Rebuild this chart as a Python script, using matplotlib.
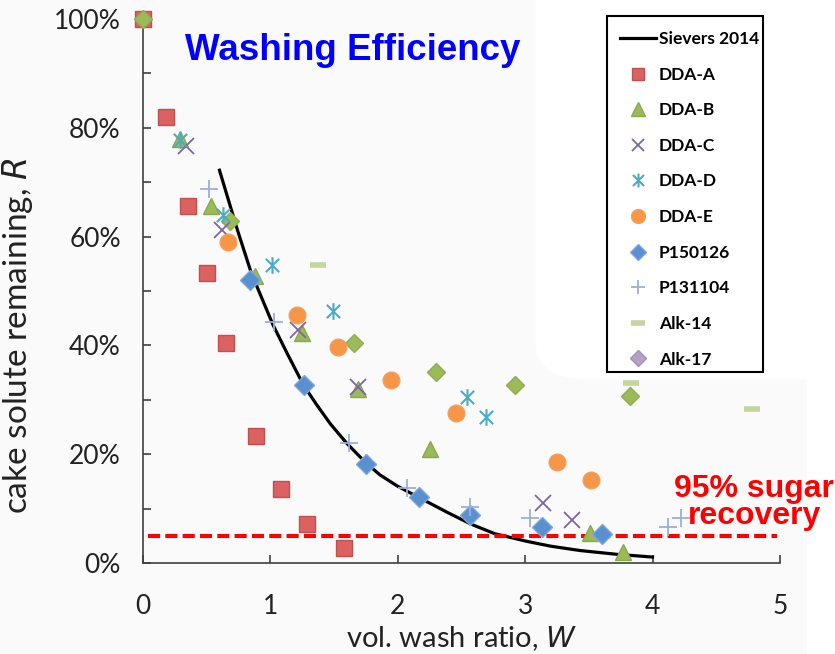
import matplotlib
matplotlib.use("Agg")
import matplotlib.pyplot as plt
from matplotlib.path import Path
from matplotlib.lines import Line2D
from matplotlib.patches import FancyBboxPatch, Rectangle

# values (W, R in %)
sievers_w = [0.60, 0.74, 0.85, 1.02, 1.13, 1.26, 1.36, 1.47, 1.60, 1.75, 1.86, 2.00, 2.17, 2.39,
             2.57, 2.76, 3.01, 3.20, 3.43, 3.72, 4.00]
sievers_r = [72.2, 61.3, 53.3, 43.8, 38.6, 32.7, 29.2, 25.6, 22.0, 18.4, 16.2, 14.1, 12.0, 9.3,
             7.2, 5.4, 4.0, 3.1, 2.3, 1.6, 1.1]

dda_a_w = [0.0, 0.18, 0.35, 0.50, 0.65, 0.89, 1.08, 1.29, 1.58]
dda_a_r = [100, 82.0, 65.6, 53.3, 40.4, 23.3, 13.6, 7.2, 2.8]

dda_b_w = [0.29, 0.53, 0.88, 1.25, 1.69, 2.25, 3.51, 3.77]
dda_b_r = [78.0, 65.6, 52.8, 42.3, 32.0, 21.0, 5.5, 2.0]

dda_c_w = [0.34, 0.62, 1.22, 1.69, 3.14, 3.37]
dda_c_r = [76.7, 61.2, 42.8, 32.3, 11.0, 7.9]

dda_d_w = [0.29, 0.63, 1.01, 1.49, 2.54, 2.69]
dda_d_r = [77.8, 64.0, 54.8, 46.3, 30.5, 26.8]

dda_e_w = [0.67, 1.21, 1.53, 1.95, 2.46, 3.25, 3.52]
dda_e_r = [59.0, 45.6, 39.7, 33.6, 27.6, 18.6, 15.3]

p150126_w = [0.84, 1.26, 1.75, 2.17, 2.57, 3.13, 3.60]
p150126_r = [52.0, 32.7, 18.2, 12.1, 8.8, 6.6, 5.3]

p131104_w = [0.52, 1.03, 1.62, 2.07, 2.57, 3.04, 4.12, 4.22]
p131104_r = [68.8, 44.3, 22.0, 13.8, 10.3, 8.3, 6.6, 8.3]

alk14_w = [1.37, 3.83, 4.78]
alk14_r = [54.8, 33.1, 28.3]

alk17_w = [0.0, 0.68, 1.66, 2.30, 2.92, 3.82]
alk17_r = [100, 62.9, 40.4, 35.1, 32.7, 30.7]

target_r = 5
target_w0, target_w1 = 0.04, 4.98

x_ticks = [0, 1, 2, 3, 4, 5]
y_ticks = list(range(0, 101, 10))
y_labels = [f"{v}%" if v % 20 == 0 else "" for v in y_ticks]

# asterisk marker like the spreadsheet one (x with a vertical bar)
star = Path([(0, -1), (0, 1), (-0.8, -0.8), (0.8, 0.8), (-0.8, 0.8), (0.8, -0.8)],
            [Path.MOVETO, Path.LINETO, Path.MOVETO, Path.LINETO, Path.MOVETO, Path.LINETO])

fig = plt.figure(figsize=(8.35, 6.54), dpi=100, facecolor="#fafafa")
fig.patches.append(FancyBboxPatch((0.641, 0.42), 0.42, 0.63, boxstyle="round,pad=0,rounding_size=0.06",
                                  transform=fig.transFigure, facecolor="white", edgecolor="none", zorder=-1))
fig.patches.append(Rectangle((0.966, 0), 0.04, 1, transform=fig.transFigure,
                             facecolor="white", edgecolor="none", zorder=-1))
# legend frame
fig.patches.append(Rectangle((607 / 835, 1 - 372 / 654), 156 / 835, 356 / 654, transform=fig.transFigure,
                             facecolor="white", edgecolor="black", lw=1.5, zorder=5))

ax = fig.add_axes([0.1713, 0.1391, 0.7627, 0.8319])
ax.set_facecolor("none")

ax.plot(sievers_w, sievers_r, color="black", lw=2.3, zorder=3)
ax.hlines(target_r, target_w0, target_w1, color="#ff0000", lw=2.9, linestyles=(0, (3, 1.3)), zorder=4)

kw = dict(linestyle="none", clip_on=False, zorder=5)
ax.plot(dda_a_w, dda_a_r, marker="s", ms=11, mfc="#dc6262", mec="#c0504d", mew=1, **kw)
ax.plot(alk17_w, alk17_r, marker="D", ms=9, mfc="#9bbb59", mec="#8fae52", mew=1, **kw)
ax.plot(dda_b_w, dda_b_r, marker="^", ms=12, mfc="#9bbb59", mec="#8aa84e", mew=1, **kw)
ax.plot(dda_c_w, dda_c_r, marker="x", ms=11, mec="#8064a2", mew=1.3, **kw)
ax.plot(dda_d_w, dda_d_r, marker=star, ms=12, mfc="none", mec="#4bacc6", mew=1.5, **kw)
ax.plot(dda_e_w, dda_e_r, marker="o", ms=12, mfc="#f79646", mec="#f0a060", mew=1, **kw)
ax.plot(p150126_w, p150126_r, marker="D", ms=10, mfc="#5a8fd0", mec="#7ea6d8", mew=1, **kw)
ax.plot(p131104_w, p131104_r, marker="+", ms=13, mec="#9ab0db", mew=1.3, **kw)
ax.plot(alk14_w, alk14_r, marker="_", ms=12, mec="#c3d69b", mew=4, **kw)

ax.set_xlim(0, 5)
ax.set_ylim(0, 100)
ax.set_xticks(x_ticks)
ax.set_yticks(y_ticks)
ax.set_yticklabels(y_labels)
for s in ["top", "right"]:
    ax.spines[s].set_visible(False)
for s in ["left", "bottom"]:
    ax.spines[s].set_color("#404040")
    ax.spines[s].set_linewidth(1.2)
ax.tick_params(direction="in", length=6, width=1.2, color="#404040",
               labelsize=19, labelcolor="#222222")
ax.tick_params(axis="x", pad=22)
ax.tick_params(axis="y", pad=16)
for lab in ax.get_xticklabels() + ax.get_yticklabels():
    lab.set_family("Lato")

ax.set_xlabel("vol. wash ratio, $\\mathit{W}$", fontsize=21, family="Lato", color="#222222")
ax.set_ylabel("cake solute remaining, $\\mathit{R}$", fontsize=24, family="Lato", color="#222222")
ax.xaxis.set_label_coords(0.5, -0.112)
ax.yaxis.set_label_coords(-0.169, 0.418)

ax.text(0.066, 0.942, "Washing Efficiency", transform=ax.transAxes, fontsize=26.5, fontweight="bold",
        color="#0000ff", family="Liberation Sans", va="center", ha="left")
fig.text(0.903, 0.232, "95% sugar\nrecovery", fontsize=23, fontweight="bold", color="#ff0000",
         family="Liberation Sans", ha="center", va="center", linespacing=0.85)

handles = [
    Line2D([], [], color="black", lw=2.3),
    Line2D([], [], ls="none", marker="s", ms=9, mfc="#dc6262", mec="#c0504d"),
    Line2D([], [], ls="none", marker="^", ms=10, mfc="#9bbb59", mec="#8aa84e"),
    Line2D([], [], ls="none", marker="x", ms=9, mec="#8064a2", mew=1.3),
    Line2D([], [], ls="none", marker=star, ms=10, mfc="none", mec="#4bacc6", mew=1.5),
    Line2D([], [], ls="none", marker="o", ms=10, mfc="#f79646", mec="#f0a060"),
    Line2D([], [], ls="none", marker="D", ms=8, mfc="#5a8fd0", mec="#7ea6d8"),
    Line2D([], [], ls="none", marker="+", ms=10, mec="#9ab0db", mew=1.3),
    Line2D([], [], ls="none", marker="_", ms=10, mec="#c3d69b", mew=4),
    Line2D([], [], ls="none", marker="D", ms=8, mfc="#b3a2c7", mec="#a090bb"),
]
labels = ["Sievers 2014", "DDA-A", "DDA-B", "DDA-C", "DDA-D", "DDA-E",
          "P150126", "P131104", "Alk-14", "Alk-17"]
leg = fig.legend(handles, labels, loc="upper left", bbox_to_anchor=(620 / 835, 1 - 31 / 654),
                 borderaxespad=0, borderpad=0, frameon=False,
                 handlelength=2.1, handletextpad=0.15, labelspacing=1.13,
                 prop={"family": "Lato", "weight": "bold", "size": 12.5})
leg.set_zorder(10)

fig.savefig("out.png", dpi=100, facecolor=fig.get_facecolor())
